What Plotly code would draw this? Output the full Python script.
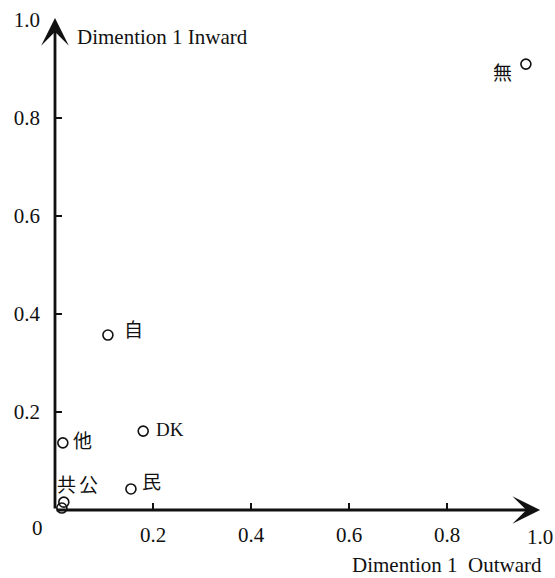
import plotly.graph_objects as go

# ---- data ----
labels = ["無", "自", "DK", "他", "民", "共", "公"]
dim_out = [0.961, 0.108, 0.180, 0.016, 0.155, 0.014, 0.018]   # x: Dimention 1 Outward
dim_in = [0.910, 0.357, 0.161, 0.137, 0.043, 0.004, 0.016]    # y: Dimention 1 Inward
tick_vals = [0.2, 0.4, 0.6, 0.8, 1.0]
tick_text = ["0.2", "0.4", "0.6", "0.8", "1.0"]
minor_ticks = [0.2, 0.4, 0.6, 0.8]
x_title = "Dimention 1\u00a0 Outward"
y_title = "Dimention 1 Inward"

# label offsets (pixels) relative to each point
label_shift = {
    "無": (-23, -9), "自": (26, 5), "DK": (27, 2), "他": (20, 1),
    "民": (21, 6), "共": (5, 23), "公": (25, 17),
}

SERIF = "Liberation Serif, Times New Roman, serif"
LABEL_FONT = "Liberation Serif, Noto Sans CJK JP, serif"
INK = "#111111"
TICK_FONT = dict(family=SERIF, size=21, color=INK)

fig = go.Figure()
fig.add_trace(go.Scatter(
    x=dim_out, y=dim_in, mode="markers",
    marker=dict(symbol="circle-open", size=10, color=INK, line=dict(width=1.6, color=INK)),
    cliponaxis=False, showlegend=False, hoverinfo="text", text=labels,
))

annotations = []
for lab, xv, yv in zip(labels, dim_out, dim_in):
    dx, dy = label_shift[lab]
    annotations.append(dict(
        x=xv, y=yv, xref="x", yref="y", text=lab, showarrow=False,
        xshift=dx, yshift=dy, font=dict(family=LABEL_FONT, size=19, color=INK),
    ))

# axis arrows
arrow_style = dict(text="", showarrow=True, arrowhead=3, arrowwidth=2.8, arrowsize=1.65,
                   arrowcolor=INK, standoff=0, startstandoff=0,
                   xref="x", yref="y", axref="x", ayref="y")
annotations.append(dict(x=0.99, y=0, ax=0, ay=0, **arrow_style))
annotations.append(dict(x=0, y=1.004, ax=0, ay=0, **arrow_style))

# last x tick label (kept inside the page edge), origin label and axis titles
annotations.append(dict(x=tick_vals[-1], y=0, xref="x", yref="y", text=tick_text[-1],
                        showarrow=False, xanchor="right", yanchor="top", xshift=10, yshift=-13,
                        font=TICK_FONT))
annotations.append(dict(x=0, y=0, xref="x", yref="y", text="0", showarrow=False,
                        xshift=-18, yshift=-18, font=TICK_FONT))
annotations.append(dict(x=0.041, y=0.965, xref="paper", yref="paper", text=y_title,
                        showarrow=False, xanchor="left", yanchor="middle",
                        font=dict(family=SERIF, size=21, color=INK)))
annotations.append(dict(x=0.998, y=-0.113, xref="paper", yref="paper", text=x_title,
                        showarrow=False, xanchor="right", yanchor="middle",
                        font=dict(family=SERIF, size=21, color=INK)))

axis_common = dict(
    range=[0, 1], showgrid=False, zeroline=False, showline=False,
    tickmode="array", ticks="", tickfont=TICK_FONT,
    minor=dict(tickmode="array", tickvals=minor_ticks, ticks="inside", ticklen=7,
               tickwidth=2, tickcolor=INK, showgrid=False),
    fixedrange=True, automargin=False, ticklabeloverflow="allow",
)

fig.update_layout(
    width=555, height=578,
    margin=dict(l=55, r=10, t=20, b=68, autoexpand=False),
    paper_bgcolor="white", plot_bgcolor="white",
    xaxis=dict(**axis_common, tickvals=tick_vals[:-1], ticktext=tick_text[:-1],
               ticklabelstandoff=10),
    yaxis=dict(**axis_common, tickvals=tick_vals, ticktext=tick_text, ticklabelstandoff=14),
    annotations=annotations,
    showlegend=False,
)

fig.write_html("out.html", config={"displayModeBar": False},
               post_script="document.body.style.margin='0';document.body.style.overflow='hidden';")
